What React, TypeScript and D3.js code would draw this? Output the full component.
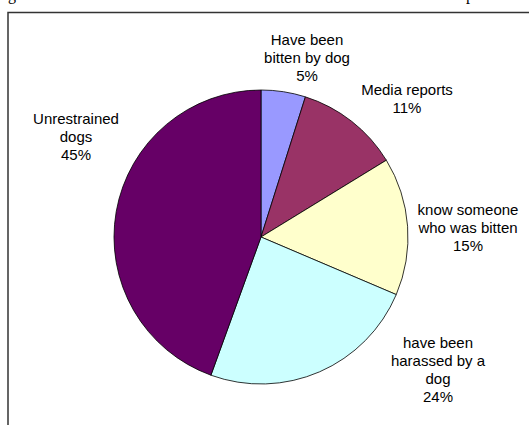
import React from "react";
import * as d3 from "d3";

const categories = [
  "Have been|bitten by dog",
  "Media reports",
  "know someone|who was bitten",
  "have been|harassed by a|dog",
  "Unrestrained|dogs",
];
const values = [4.9, 11.4, 15.2, 24.2, 44.6];
const percentLabels = ["5%", "11%", "15%", "24%", "45%"];
const colors = ["#9999FF", "#993366", "#FFFFCC", "#CCFFFF", "#660066"];
// label anchor points (center x, first baseline y)
const labelPos: [number, number][] = [
  [307, 45],
  [407, 95],
  [468, 215],
  [438, 348],
  [76, 124],
];

const W = 529;
const H = 425;
const cx = 261;
const cy = 237;
const R = 147;

export default function App() {
  const pie = d3.pie<number>().sort(null).value((d) => d)(values);
  const arc = d3.arc<d3.PieArcDatum<number>>().innerRadius(0).outerRadius(R);
  return (
    <svg
      width={W}
      height={H}
      style={{ position: "absolute", left: 0, top: 0, background: "#fff" }}
    >
      <text x={8} y={0} fontFamily="Liberation Serif" fontSize={16} fill="#000">g</text>
      <text x={466} y={0} fontFamily="Liberation Serif" fontSize={16} fill="#000">p</text>
      <rect x={8} y={12.5} width={W + 20} height={H + 20} fill="#fff" stroke="#333" strokeWidth={1.5} />
      <g transform={`translate(${cx},${cy})`}>
        {pie.map((p, i) => (
          <path key={i} d={arc(p) || ""} fill={colors[i]} stroke="#000" strokeWidth={0.8} />
        ))}
      </g>
      {categories.map((c, i) => {
        const lines = [...c.split("|"), percentLabels[i]];
        const [x, y] = labelPos[i];
        return (
          <text
            key={i}
            x={x}
            y={y}
            textAnchor="middle"
            fontFamily="Liberation Sans, Arial, sans-serif"
            fontSize={15}
            fill="#000"
          >
            {lines.map((l, j) => (
              <tspan key={j} x={x} dy={j === 0 ? 0 : 18}>
                {l}
              </tspan>
            ))}
          </text>
        );
      })}
    </svg>
  );
}
